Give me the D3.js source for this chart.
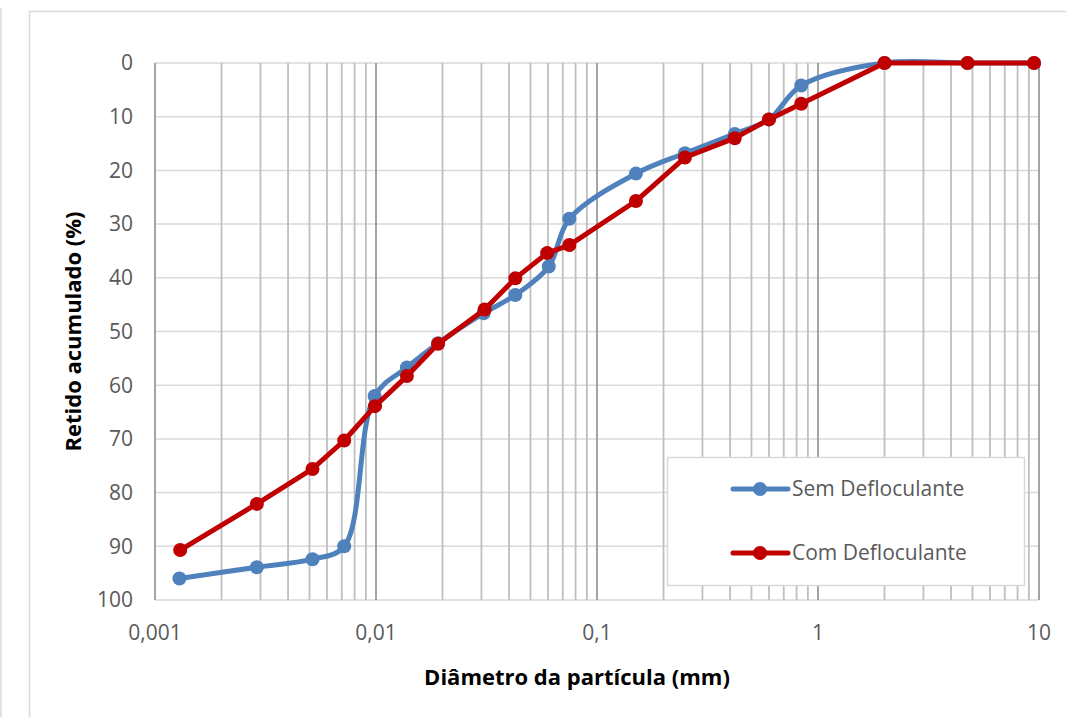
<!DOCTYPE html>
<html>
<head>
<meta charset="utf-8">
<script src="https://cdn.jsdelivr.net/npm/d3@7"></script>
<style>
  body { margin: 0; background: #fff; }
  text { font-family: "Open Sans", "Noto Sans", sans-serif; }
</style>
</head>
<body>
<div id="chart"></div>
<script>
// Dados (granulometria)
const semDiam = [0.00129, 0.00289, 0.00516, 0.00718, 0.00986, 0.0138, 0.0191, 0.0307, 0.0427, 0.0605, 0.075, 0.15, 0.25, 0.42, 0.6, 0.84, 2.0, 4.75, 9.5];
const semRetido = [96, 93.9, 92.4, 90, 62, 56.7, 52.2, 46.6, 43.2, 37.9, 29, 20.6, 16.8, 13.2, 10.5, 4.2, 0, 0, 0];
const comDiam = [0.0013, 0.00289, 0.00516, 0.00718, 0.0099, 0.0138, 0.0191, 0.031, 0.0427, 0.0595, 0.075, 0.15, 0.25, 0.42, 0.6, 0.84, 2.0, 4.75, 9.5];
const comRetido = [90.7, 82.1, 75.6, 70.3, 63.9, 58.3, 52.3, 45.9, 40.1, 35.4, 33.9, 25.7, 17.6, 14.0, 10.5, 7.6, 0, 0, 0];
const xTicks = [0.001, 0.01, 0.1, 1, 10];
const xTickLabels = ["0,001", "0,01", "0,1", "1", "10"];
const yTicks = [0, 10, 20, 30, 40, 50, 60, 70, 80, 90, 100];
const seriesNames = ["Sem Defloculante", "Com Defloculante"];
const seriesColors = ["#4f81bd", "#c00000"];

const width = 1066, height = 717;
const margin = { top: 63, right: 27, bottom: 117, left: 155 };
const innerWidth = width - margin.left - margin.right;
const innerHeight = height - margin.top - margin.bottom;

const root = d3.select("#chart").append("svg").attr("width", width).attr("height", height);

// moldura
root.append("line").attr("x1", 1).attr("x2", 1).attr("y1", 8).attr("y2", height)
    .attr("stroke", "#d9d9d9").attr("stroke-width", 1.5);
root.append("path").attr("d", `M29.5,${height} V11.5 H${width}`)
    .attr("fill", "none").attr("stroke", "#d9d9d9").attr("stroke-width", 1.5);

const svg = root.append("g").attr("transform", `translate(${margin.left},${margin.top})`);

const x = d3.scaleLog().domain([0.001, 10]).range([0, innerWidth]);
const y = d3.scaleLinear().domain([0, 100]).range([0, innerHeight]);

// Grade horizontal
svg.append("g").selectAll("line").data(yTicks).enter().append("line")
    .attr("x1", 0).attr("x2", innerWidth)
    .attr("y1", d => y(d)).attr("y2", d => y(d))
    .attr("stroke", "#d9d9d9").attr("stroke-width", 1.5);

// Grade vertical (log)
const minorTicks = [];
for (let e = -3; e < 1; e++) {
    for (let m = 2; m <= 9; m++) minorTicks.push(m * Math.pow(10, e));
}
svg.append("g").selectAll("line").data(minorTicks).enter().append("line")
    .attr("x1", d => x(d)).attr("x2", d => x(d))
    .attr("y1", 0).attr("y2", innerHeight)
    .attr("stroke", "#bfbfbf").attr("stroke-width", 1.8);
svg.append("g").selectAll("line").data(xTicks).enter().append("line")
    .attr("x1", d => x(d)).attr("x2", d => x(d))
    .attr("y1", 0).attr("y2", innerHeight)
    .attr("stroke", "#9a9a9a").attr("stroke-width", 1.8);

// Rótulos dos eixos
svg.append("g").selectAll("text").data(yTicks).enter().append("text")
    .attr("x", -22).attr("y", d => y(d)).attr("dy", "0.35em")
    .attr("text-anchor", "end").style("font-size", "21px").attr("fill", "#595959")
    .text(d => d);
svg.append("g").selectAll("text").data(xTicks).enter().append("text")
    .attr("x", d => x(d)).attr("y", innerHeight + 33).attr("dy", "0.35em")
    .attr("text-anchor", "middle").style("font-size", "21px").attr("fill", "#595959")
    .text((d, i) => xTickLabels[i]);

svg.append("text").attr("x", innerWidth / 2 - 20).attr("y", innerHeight + 85)
    .attr("text-anchor", "middle").style("font-size", "22px").style("font-weight", "bold")
    .attr("fill", "#000").text("Diâmetro da partícula (mm)");
svg.append("text").attr("transform", `translate(${-74},${innerHeight / 2}) rotate(-90)`)
    .attr("text-anchor", "middle").style("font-size", "22px").style("font-weight", "bold")
    .attr("fill", "#000").text("Retido acumulado (%)");

// Séries
const series = [
    { name: seriesNames[0], color: seriesColors[0], curve: d3.curveCatmullRom.alpha(0.5),
      pts: semDiam.map((d, i) => [d, semRetido[i]]) },
    { name: seriesNames[1], color: seriesColors[1], curve: d3.curveLinear,
      pts: comDiam.map((d, i) => [d, comRetido[i]]) }
];

series.forEach(s => {
    const line = d3.line().x(d => x(d[0])).y(d => y(d[1])).curve(s.curve);
    svg.append("path").datum(s.pts).attr("d", line)
        .attr("fill", "none").attr("stroke", s.color).attr("stroke-width", 5)
        .attr("stroke-linejoin", "round");
    svg.append("g").selectAll("circle").data(s.pts).enter().append("circle")
        .attr("cx", d => x(d[0])).attr("cy", d => y(d[1])).attr("r", 7)
        .attr("fill", s.color);
});

// Legenda
const legend = root.append("g").attr("transform", "translate(667,457)");
legend.append("rect").attr("x", 0.5).attr("y", 0.5).attr("width", 357).attr("height", 128)
    .attr("fill", "#fff").attr("stroke", "#d9d9d9").attr("stroke-width", 1.5);
series.forEach((s, i) => {
    const row = legend.append("g").attr("transform", `translate(0, ${32 + i * 64})`);
    row.append("line").attr("x1", 66).attr("x2", 121).attr("y1", 0).attr("y2", 0)
        .attr("stroke", s.color).attr("stroke-width", 5).attr("stroke-linecap", "round");
    row.append("circle").attr("cx", 93).attr("cy", 0).attr("r", 7).attr("fill", s.color);
    row.append("text").attr("x", 125).attr("y", 0).attr("dy", "0.35em")
        .style("font-size", "21px").attr("fill", "#595959").text(s.name);
});
</script>
</body>
</html>
